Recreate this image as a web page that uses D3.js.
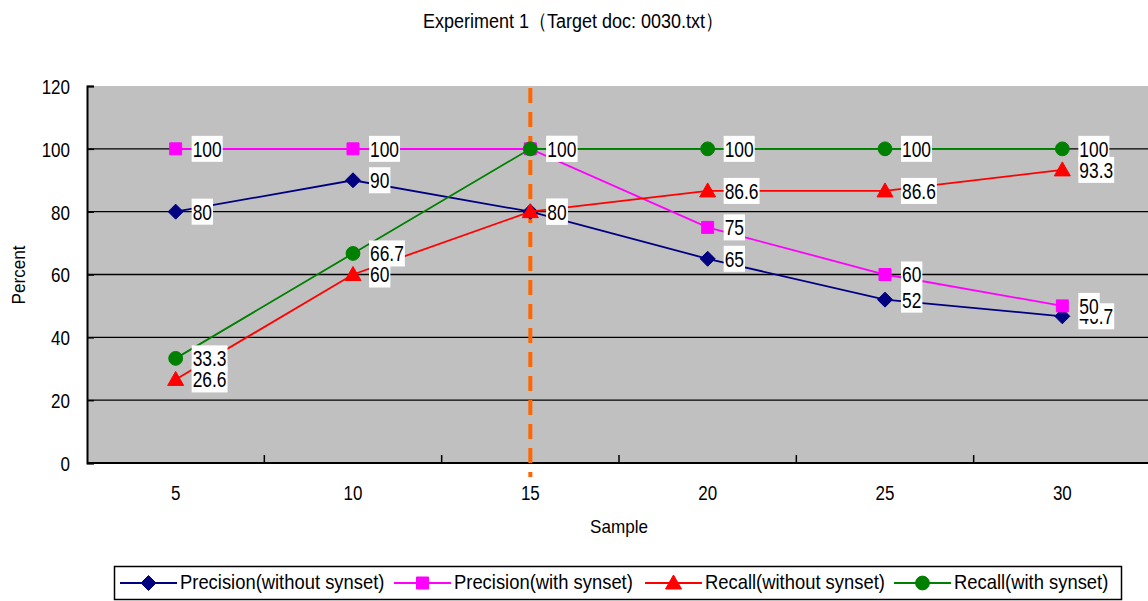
<!DOCTYPE html>
<html>
<head>
<meta charset="utf-8">
<script src="https://cdn.jsdelivr.net/npm/d3@7"></script>
<style>
  body { margin: 0; background: #fff; }
  text { font-family: "Liberation Sans", Arial, sans-serif; fill: #000; }
</style>
</head>
<body>
<div id="chart"></div>
<script>
var samples = ["5", "10", "15", "20", "25", "30"];
var precisionWithout = [80, 90, 80, 65, 52, 46.7];
var precisionWith = [100, 100, 100, 75, 60, 50];
var recallWithout = [26.6, 60, 80, 86.6, 86.6, 93.3];
var recallWith = [33.3, 66.7, 100, 100, 100, 100];
var yTicks = [0, 20, 40, 60, 80, 100, 120];
var markSample = "15";

var series = [
    {name: "Precision(without synset)", values: precisionWithout, color: "#000080", marker: "diamond"},
    {name: "Precision(with synset)", values: precisionWith, color: "#FF00FF", marker: "square"},
    {name: "Recall(without synset)", values: recallWithout, color: "#FF0000", marker: "triangle"},
    {name: "Recall(with synset)", values: recallWith, color: "#008000", marker: "circle"}
];

var svgWidth = 1148;
var svgHeight = 601;
var plot = {left: 87, right: 1151, top: 86, bottom: 463};
var stretch = 1.22;   // the original text is drawn taller than it is wide

var svg = d3.select("#chart")
    .append("svg")
    .attr("width", svgWidth)
    .attr("height", svgHeight);

var x = d3.scaleBand()
    .domain(samples)
    .range([plot.left, plot.right]);

var y = d3.scaleLinear()
    .domain([0, 120])
    .range([plot.bottom, plot.top]);

function cx(d) { return x(d) + x.bandwidth() / 2; }

// stretched text helper
function addText(parent, tx, ty, str, size, anchor, sy, rotate) {
    var tr = `translate(${tx}, ${ty})` + (rotate ? ` rotate(${rotate})` : "") + ` scale(1, ${sy || stretch})`;
    return parent.append("text")
        .attr("transform", tr)
        .attr("text-anchor", anchor || "start")
        .style("font-size", size + "px")
        .text(str);
}

// plot background
svg.append("rect")
    .attr("x", plot.left)
    .attr("y", plot.top)
    .attr("width", plot.right - plot.left)
    .attr("height", plot.bottom - plot.top)
    .attr("fill", "#C0C0C0");

// gridlines
svg.selectAll("line.grid")
    .data(yTicks.filter(d => d > 0 && d < 120))
    .enter().append("line")
    .attr("class", "grid")
    .attr("x1", plot.left)
    .attr("x2", plot.right)
    .attr("y1", d => y(d))
    .attr("y2", d => y(d))
    .attr("stroke", "#000")
    .attr("stroke-width", 1.3);

// y axis
var leftAxis = d3.axisLeft(y).tickValues(yTicks).tickSize(-7).tickPadding(17);
var yAxis = svg.append("g")
    .attr("transform", `translate(${plot.left}, 0)`)
    .call(leftAxis);
yAxis.select(".domain").attr("stroke", "#000").attr("stroke-width", 2);
yAxis.selectAll(".tick line").attr("stroke", "#000").attr("stroke-width", 1.5);
yAxis.selectAll(".tick text")
    .style("font-size", "17px")
    .attr("dy", "0.36em")
    .attr("transform", `scale(1, ${stretch})`);

// x axis line
svg.append("line")
    .attr("x1", plot.left)
    .attr("x2", plot.right)
    .attr("y1", plot.bottom)
    .attr("y2", plot.bottom)
    .attr("stroke", "#000")
    .attr("stroke-width", 2);

// x ticks at category boundaries
svg.selectAll("line.xtick")
    .data(samples.slice(1))
    .enter().append("line")
    .attr("class", "xtick")
    .attr("x1", d => x(d))
    .attr("x2", d => x(d))
    .attr("y1", plot.bottom)
    .attr("y2", plot.bottom - 8)
    .attr("stroke", "#000")
    .attr("stroke-width", 1.5);

samples.forEach(function(d) {
    addText(svg, cx(d), 500, d, 17, "middle");
});

// orange dashed marker line
svg.append("line")
    .attr("x1", cx(markSample))
    .attr("x2", cx(markSample))
    .attr("y1", plot.top + 2)
    .attr("y2", 477)
    .attr("stroke", "#FF6600")
    .attr("stroke-width", 4)
    .attr("stroke-dasharray", "15,9");

// lines + markers
var line = d3.line()
    .x((d, i) => cx(samples[i]))
    .y(d => y(d));

function markerPath(type) {
    if (type === "diamond") return "M0,-7.5L7.5,0L0,7.5L-7.5,0Z";
    if (type === "square") return "M-6,-6H6V6H-6Z";
    if (type === "triangle") return "M0,-8L8,6H-8Z";
    return d3.symbol().type(d3.symbolCircle).size(150)();
}

series.forEach(function(s) {
    svg.append("path")
        .datum(s.values)
        .attr("d", line)
        .attr("fill", "none")
        .attr("stroke", s.color)
        .attr("stroke-width", 1.8);

    svg.selectAll(null)
        .data(s.values)
        .enter().append("path")
        .attr("transform", (d, i) => `translate(${cx(samples[i])}, ${y(d)})`)
        .attr("d", markerPath(s.marker))
        .attr("fill", s.color)
        .attr("stroke", s.color)
        .attr("stroke-width", 1);
});

// data labels
var labelSize = 17.4;
var labelStretch = 1.26;
series.forEach(function(s) {
    s.values.forEach(function(v, i) {
        var g = svg.append("g")
            .attr("transform", `translate(${cx(samples[i]) + 16}, ${y(v)})`);
        var rect = g.append("rect")
            .attr("x", 0)
            .attr("y", -13)
            .attr("height", 26)
            .attr("fill", "#fff");
        var t = addText(g, 1, 0.36 * labelSize * labelStretch, v, labelSize, "start", labelStretch);
        rect.attr("width", t.node().getComputedTextLength() + 2);
    });
});

// title
addText(svg, 573, 28, "Experiment 1\uFF08Target doc: 0030.txt\uFF09", 17.3, "middle", 1.2)
    .attr("textLength", 300)
    .attr("lengthAdjust", "spacingAndGlyphs");

// axis titles
addText(svg, 619, 533, "Sample", 17.1, "middle", 1.1);
addText(svg, 25, 275, "Percent", 17.1, "middle", 1.1, -90);

// legend
var legend = svg.append("g");
legend.append("rect")
    .attr("x", 114.5)
    .attr("y", 566.5)
    .attr("width", 1007)
    .attr("height", 33)
    .attr("fill", "#fff")
    .attr("stroke", "#000")
    .attr("stroke-width", 1.5);

var legendPos = [120, 394, 645, 894];
series.forEach(function(s, i) {
    var lg = legend.append("g")
        .attr("transform", `translate(${legendPos[i]}, 583)`);
    lg.append("line")
        .attr("x1", 0)
        .attr("x2", 57)
        .attr("stroke", s.color)
        .attr("stroke-width", 2);
    lg.append("path")
        .attr("transform", "translate(28.5, 0)")
        .attr("d", markerPath(s.marker))
        .attr("fill", s.color)
        .attr("stroke", s.color);
    addText(lg, 60, 6, s.name, 18.4, "start", 1.14);
});
</script>
</body>
</html>
